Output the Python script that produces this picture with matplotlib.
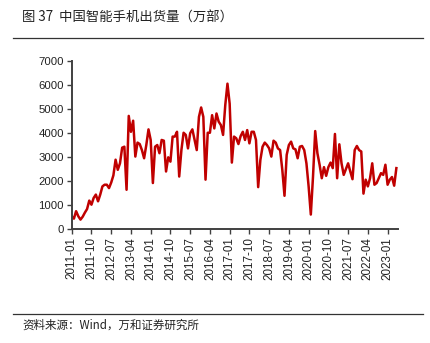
import matplotlib
matplotlib.use('Agg')
import matplotlib.pyplot as plt
import numpy as np

# 中国智能手机出货量（万部），2011-01 ~ 2023-05 月度
shipments = [
    550, 450, 760, 550, 410, 530, 700, 850, 1200, 1030, 1310, 1450,        # 2011
    1170, 1450, 1790, 1860, 1860, 1720, 1950, 2250, 2900, 2480, 2750, 3400,  # 2012
    3440, 1650, 4720, 4060, 4520, 3030, 3610, 3550, 3300, 2960, 3510, 4160,  # 2013
    3720, 1930, 3440, 3510, 3170, 3720, 3690, 2410, 3000, 2820, 3860, 3860,  # 2014
    4060, 2200, 3300, 4020, 3930, 3370, 4000, 4160, 3720, 3300, 4680, 5070,  # 2015
    4680, 2070, 4020, 4020, 4750, 4200, 4820, 4480, 4340, 3930, 5170, 6060,  # 2016
    5230, 2780, 3860, 3790, 3550, 3880, 4060, 3720, 4130, 3580, 4060, 4060,  # 2017
    3720, 1760, 2890, 3440, 3610, 3510, 3370, 3030, 3690, 3610, 3370, 3300,  # 2018
    2480, 1400, 3100, 3510, 3650, 3370, 3330, 2960, 3440, 3470, 3300, 2750,  # 2019
    1790, 620, 2200, 4090, 3170, 2690, 2130, 2590, 2230, 2590, 2780, 2550,   # 2020
    3970, 2130, 3540, 2750, 2270, 2510, 2750, 2410, 2090, 3300, 3470, 3300,  # 2021
    3240, 1490, 2070, 1790, 2130, 2750, 1860, 1930, 2130, 2340, 2270, 2690,  # 2022
    1860, 2070, 2180, 1820, 2550,                                            # 2023
]
months = ['%d-%02d' % (2011 + i // 12, i % 12 + 1) for i in range(len(shipments))]
tick_step = 9
y_ticks = [0, 1000, 2000, 3000, 4000, 5000, 6000, 7000]

cjk = ['Noto Sans CJK SC', 'DejaVu Sans']
num_font = ['Liberation Sans', 'DejaVu Sans']
axis_color = '#404040'

fig = plt.figure(figsize=(4.31, 3.43), dpi=100)
ax = fig.add_axes([0.1664, 0.331, 0.7563, 0.491])

x = np.arange(len(shipments))
ax.plot(x, shipments, color='#C00000', linewidth=1.8)

ax.set_xlim(0, 148.6)
ax.set_ylim(0, 7000)
ax.set_yticks(y_ticks)
ax.set_yticklabels([str(v) for v in y_ticks], fontsize=8.2, family=num_font)
ax.set_xticks(x[::tick_step])
ax.set_xticklabels(months[::tick_step], rotation=90, fontsize=8.4, family=num_font)

for side in ['top', 'right']:
    ax.spines[side].set_visible(False)
for side in ['left', 'bottom']:
    ax.spines[side].set_color(axis_color)
    ax.spines[side].set_linewidth(1.4)
ax.tick_params(axis='both', direction='out', length=3.5, width=1, color=axis_color,
               labelcolor='#222222', pad=2)

# 标题与来源
fig.text(22 / 431, 1 - 18 / 343, '图 37  中国智能手机出货量（万部）', fontsize=9.6,
         family=cjk, va='center', ha='left', color='#222222')
fig.add_artist(plt.Line2D([13 / 431, 423 / 431], [1 - 38 / 343, 1 - 38 / 343],
                          color='#333333', linewidth=0.9))
fig.add_artist(plt.Line2D([13 / 431, 423 / 431], [1 - 314 / 343, 1 - 314 / 343],
                          color='#333333', linewidth=0.9))
fig.text(22 / 431, 1 - 325 / 343, '资料来源：Wind，万和证券研究所', fontsize=8.3,
         family=cjk, va='center', ha='left', color='#222222')

fig.savefig('out.png', dpi=100)
